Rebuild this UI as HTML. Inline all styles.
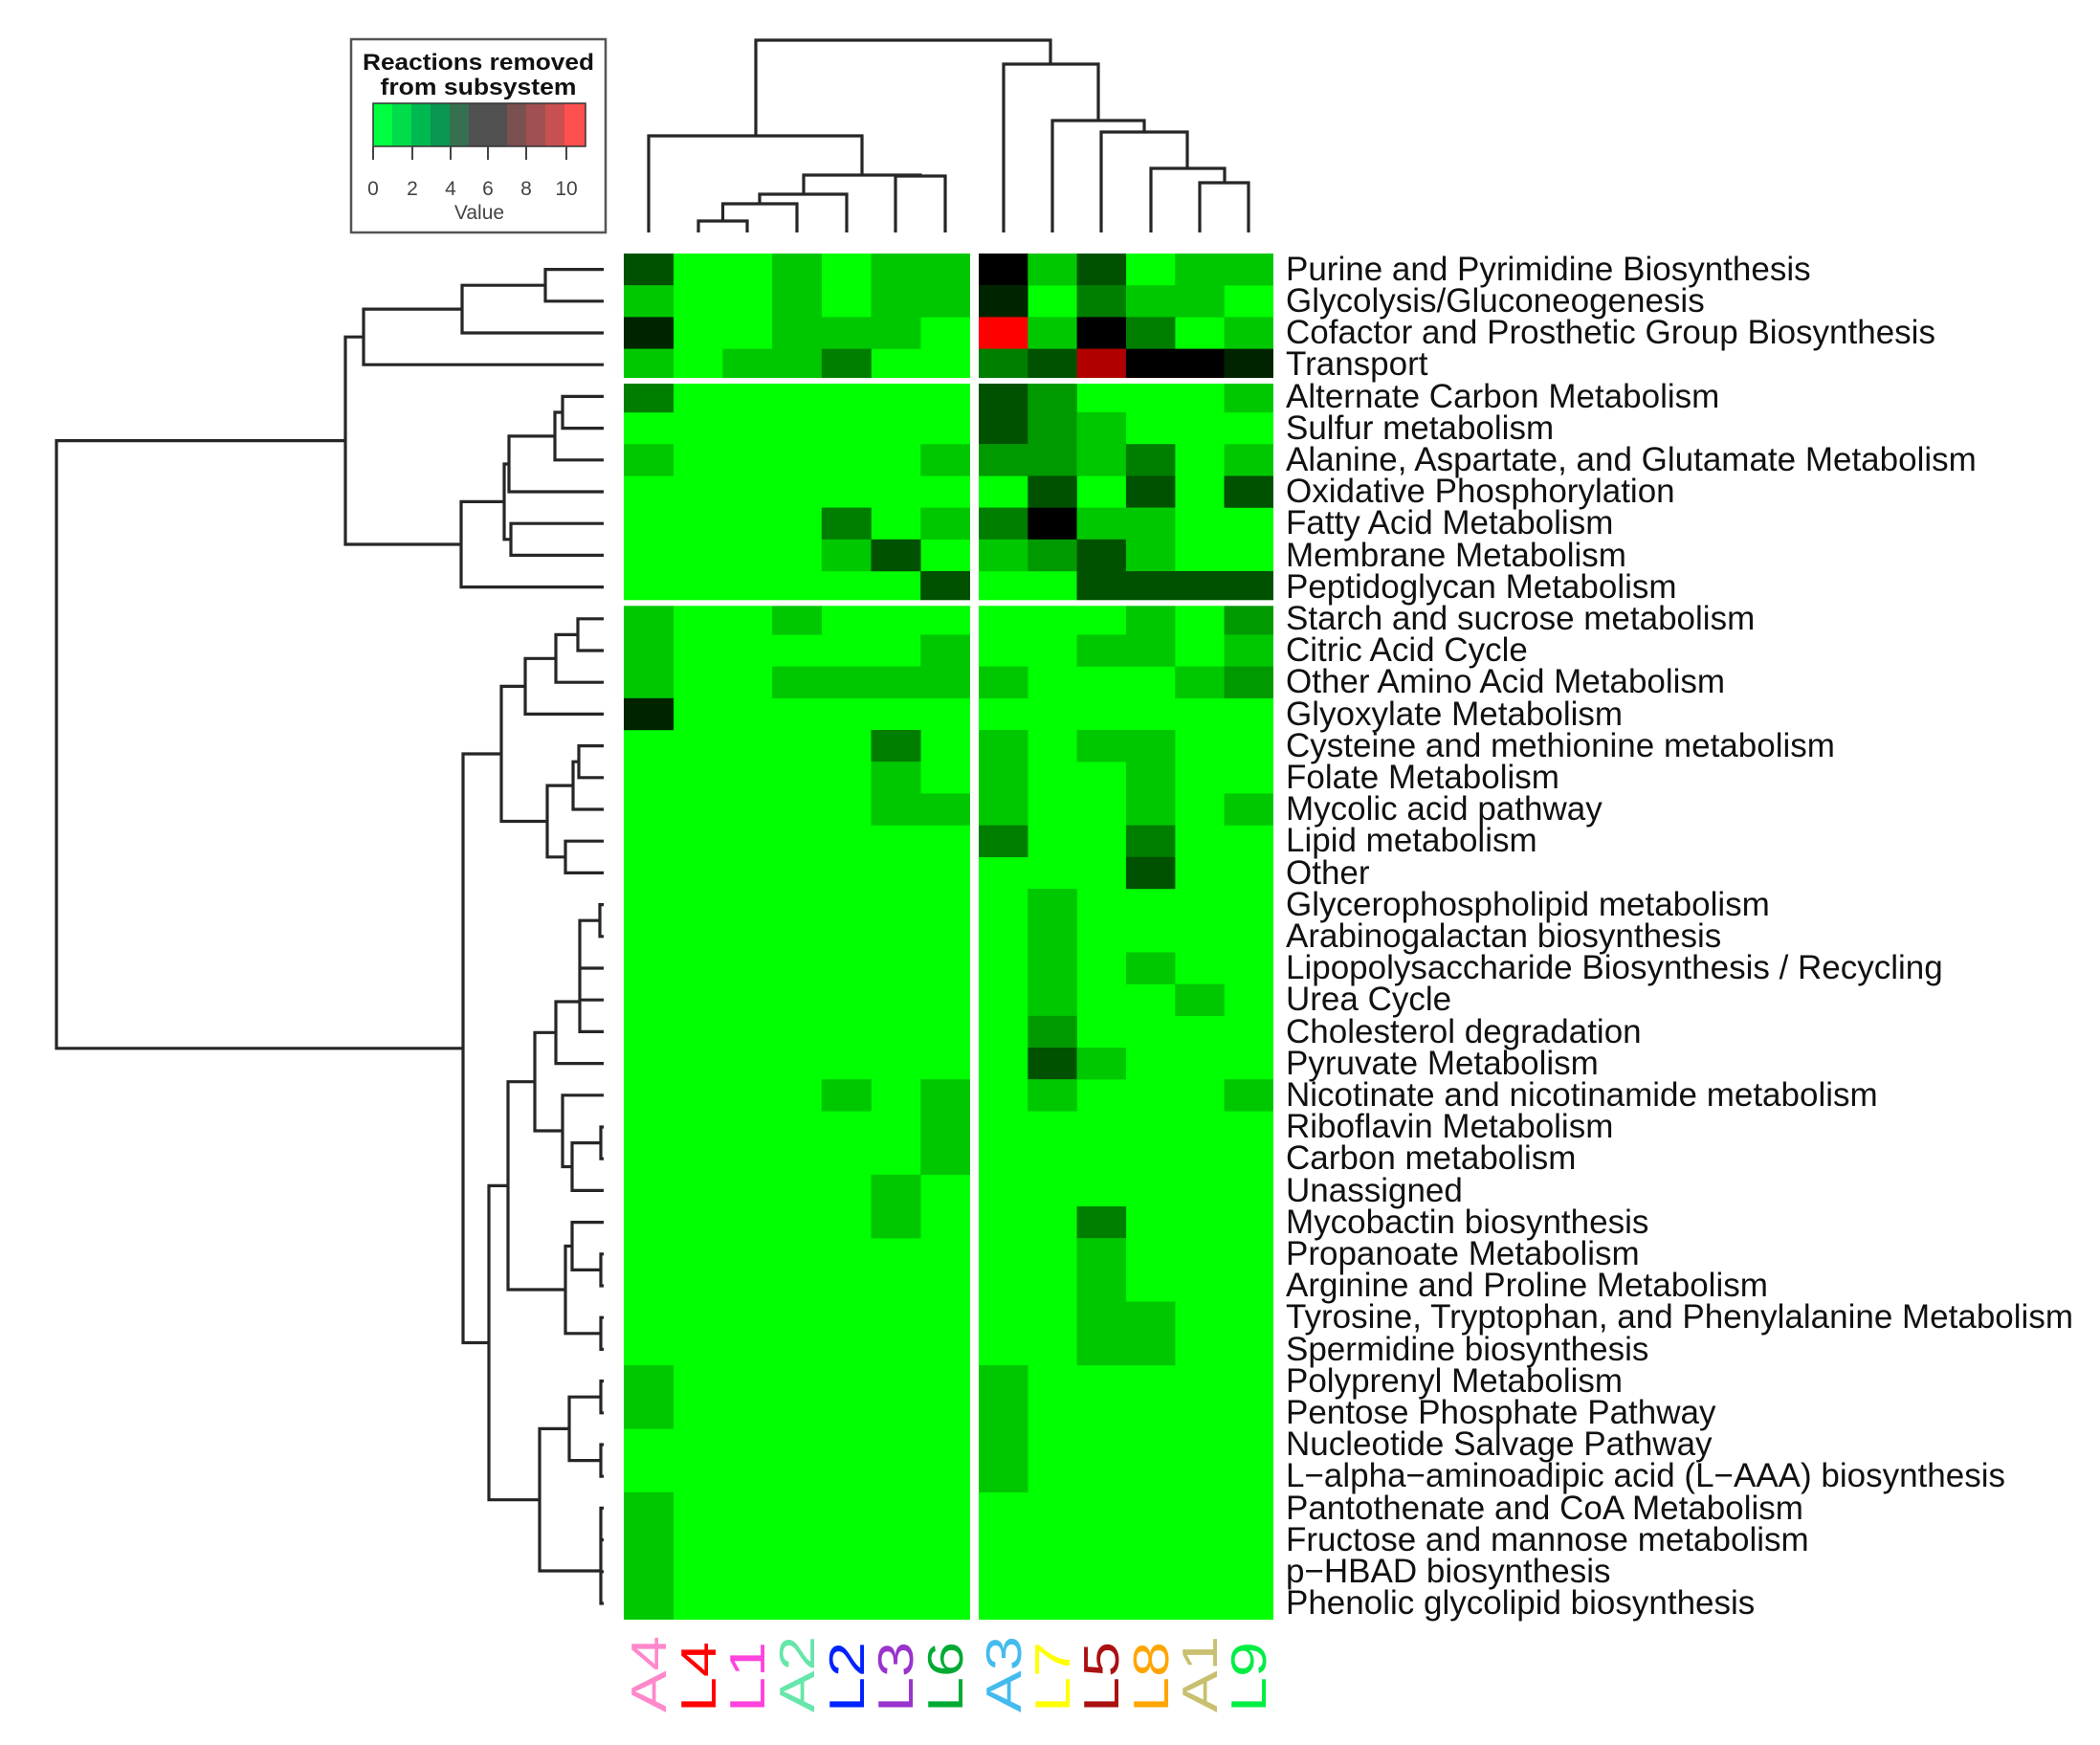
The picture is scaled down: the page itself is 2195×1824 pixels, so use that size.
<!DOCTYPE html>
<html><head><meta charset="utf-8"><style>
html,body{margin:0;padding:0;background:#fff;}
svg{display:block}
.a{fill:#00c800}.b{fill:#009a00}.c{fill:#007e00}.d{fill:#005200}.e{fill:#002400}.k{fill:#000}
.dg{fill:none;stroke:#262626;stroke-width:3.2}
.rl{font-family:"Liberation Sans",sans-serif;font-size:35px;fill:#111}
.cl{font-family:"Liberation Sans",sans-serif;font-size:52px}
</style></head><body>
<svg width="2195" height="1824" viewBox="0 0 2195 1824" xmlns="http://www.w3.org/2000/svg">
<rect width="2195" height="1824" fill="#fff"/>
<rect x="367" y="41" width="266" height="202" fill="#fff" stroke="#555" stroke-width="2.5"/>
<text x="500" y="73" text-anchor="middle" font-family="Liberation Sans,sans-serif" font-weight="bold" font-size="24" fill="#111" textLength="242" lengthAdjust="spacingAndGlyphs">Reactions removed</text>
<text x="500" y="99" text-anchor="middle" font-family="Liberation Sans,sans-serif" font-weight="bold" font-size="24" fill="#111" textLength="205" lengthAdjust="spacingAndGlyphs">from subsystem</text>
<g>
<rect x="390" y="108" width="21" height="45" fill="#00ff40"/>
<rect x="410" y="108" width="21" height="45" fill="#00dc4a"/>
<rect x="430" y="108" width="21" height="45" fill="#00b850"/>
<rect x="450" y="108" width="21" height="45" fill="#0a9650"/>
<rect x="470" y="108" width="21" height="45" fill="#357050"/>
<rect x="490" y="108" width="41" height="45" fill="#505050"/>
<rect x="530" y="108" width="21" height="45" fill="#7a5050"/>
<rect x="550" y="108" width="21" height="45" fill="#a05050"/>
<rect x="570" y="108" width="21" height="45" fill="#c85050"/>
<rect x="590" y="108" width="22" height="45" fill="#ff5050"/>
<rect x="390" y="108" width="222" height="45" fill="none" stroke="#333" stroke-width="1.5"/>
</g>
<path d="M390 153V167M431 153V167M471 153V167M510 153V167M550 153V167M592 153V167" stroke="#444" stroke-width="2"/>
<g font-family="Liberation Sans,sans-serif" font-size="21" fill="#444" text-anchor="middle">
<text x="390" y="204">0</text><text x="431" y="204">2</text><text x="471" y="204">4</text><text x="510" y="204">6</text><text x="550" y="204">8</text><text x="592" y="204">10</text>
<text x="501" y="229">Value</text>
</g>
<rect x="652" y="265" width="362" height="1428" fill="#00ff00"/>
<rect x="1023" y="265" width="308" height="1428" fill="#00ff00"/>
<g>
<rect class="d" x="652" y="265" width="52" height="33.4"/><rect class="a" x="807.1" y="265" width="52" height="33.4"/><rect class="a" x="910.5" y="265" width="103.5" height="33.4"/>
<rect class="k" x="1023" y="265" width="51.5" height="33.4"/><rect class="a" x="1074.3" y="265" width="51.5" height="33.4"/><rect class="d" x="1125.6" y="265" width="51.5" height="33.4"/><rect class="a" x="1228.2" y="265" width="102.8" height="33.4"/>
<rect class="a" x="652" y="298.2" width="52" height="33.4"/><rect class="a" x="807.1" y="298.2" width="52" height="33.4"/><rect class="a" x="910.5" y="298.2" width="103.5" height="33.4"/>
<rect class="e" x="1023" y="298.2" width="51.5" height="33.4"/><rect class="c" x="1125.6" y="298.2" width="51.5" height="33.4"/><rect class="a" x="1176.9" y="298.2" width="102.8" height="33.4"/>
<rect class="e" x="652" y="331.4" width="52" height="33.4"/><rect class="a" x="807.1" y="331.4" width="155.3" height="33.4"/>
<rect fill="#ff0000" x="1023" y="331.4" width="51.5" height="33.4"/><rect class="a" x="1074.3" y="331.4" width="51.5" height="33.4"/><rect class="k" x="1125.6" y="331.4" width="51.5" height="33.4"/><rect class="c" x="1176.9" y="331.4" width="51.5" height="33.4"/><rect class="a" x="1279.5" y="331.4" width="51.5" height="33.4"/>
<rect class="a" x="652" y="364.6" width="52" height="33.4"/><rect class="a" x="755.4" y="364.6" width="103.5" height="33.4"/><rect class="c" x="858.8" y="364.6" width="52" height="33.4"/>
<rect class="c" x="1023" y="364.6" width="51.5" height="33.4"/><rect class="d" x="1074.3" y="364.6" width="51.5" height="33.4"/><rect fill="#b00000" x="1125.6" y="364.6" width="51.5" height="33.4"/><rect class="k" x="1176.9" y="364.6" width="102.8" height="33.4"/><rect class="e" x="1279.5" y="364.6" width="51.5" height="33.4"/>
<rect class="c" x="652" y="397.8" width="52" height="33.4"/><rect class="d" x="1023" y="397.8" width="51.5" height="66.6"/><rect class="b" x="1074.3" y="397.8" width="51.5" height="66.6"/><rect class="a" x="1279.5" y="397.8" width="51.5" height="33.4"/>
<rect class="a" x="1125.6" y="431" width="51.5" height="33.4"/>
<rect class="a" x="652" y="464.2" width="52" height="33.4"/><rect class="a" x="962.2" y="464.2" width="52" height="33.4"/>
<rect class="b" x="1023" y="464.2" width="51.5" height="33.4"/><rect class="b" x="1074.3" y="464.2" width="51.5" height="33.4"/><rect class="a" x="1125.6" y="464.2" width="51.5" height="33.4"/><rect class="c" x="1176.9" y="464.2" width="51.5" height="33.4"/><rect class="a" x="1279.5" y="464.2" width="51.5" height="33.4"/>
<rect class="d" x="1074.3" y="497.4" width="51.5" height="33.4"/><rect class="d" x="1176.9" y="497.4" width="51.5" height="33.4"/><rect class="d" x="1279.5" y="497.4" width="51.5" height="33.4"/>
<rect class="c" x="858.8" y="530.6" width="52" height="33.4"/><rect class="a" x="962.2" y="530.6" width="52" height="33.4"/>
<rect class="c" x="1023" y="530.6" width="51.5" height="33.4"/><rect class="k" x="1074.3" y="530.6" width="51.5" height="33.4"/><rect class="a" x="1125.6" y="530.6" width="102.8" height="33.4"/>
<rect class="a" x="858.8" y="563.8" width="52" height="33.4"/><rect class="d" x="910.5" y="563.8" width="52" height="33.4"/>
<rect class="a" x="1023" y="563.8" width="51.5" height="33.4"/><rect class="b" x="1074.3" y="563.8" width="51.5" height="33.4"/><rect class="d" x="1125.6" y="563.8" width="51.5" height="66.6"/><rect class="a" x="1176.9" y="563.8" width="51.5" height="33.4"/>
<rect class="d" x="962.2" y="597" width="52" height="33.4"/><rect class="d" x="1125.6" y="597" width="205.4" height="33.4"/>
<rect class="a" x="652" y="630.2" width="52" height="99.8"/><rect class="a" x="807.1" y="630.2" width="52" height="33.4"/><rect class="a" x="1176.9" y="630.2" width="51.5" height="33.4"/><rect class="b" x="1279.5" y="630.2" width="51.5" height="33.4"/>
<rect class="a" x="962.2" y="663.4" width="52" height="33.4"/><rect class="a" x="1125.6" y="663.4" width="102.8" height="33.4"/><rect class="a" x="1279.5" y="663.4" width="51.5" height="33.4"/>
<rect class="a" x="807.1" y="696.6" width="207" height="33.4"/><rect class="a" x="1023" y="696.6" width="51.5" height="33.4"/><rect class="a" x="1228.2" y="696.6" width="51.5" height="33.4"/><rect class="b" x="1279.5" y="696.6" width="51.5" height="33.4"/>
<rect class="e" x="652" y="729.8" width="52" height="33.4"/>
<rect class="c" x="910.5" y="763" width="52" height="33.4"/><rect class="a" x="910.5" y="796.2" width="52" height="66.6"/><rect class="a" x="962.2" y="829.4" width="52" height="33.4"/>
<rect class="a" x="1023" y="763" width="51.5" height="99.8"/><rect class="a" x="1125.6" y="763" width="51.5" height="33.4"/><rect class="a" x="1176.9" y="763" width="51.5" height="99.8"/><rect class="a" x="1279.5" y="829.4" width="51.5" height="33.4"/>
<rect class="c" x="1023" y="862.6" width="51.5" height="33.4"/><rect class="c" x="1176.9" y="862.6" width="51.5" height="33.4"/>
<rect class="d" x="1176.9" y="895.8" width="51.5" height="33.4"/>
<rect class="a" x="1074.3" y="929" width="51.5" height="133"/><rect class="a" x="1176.9" y="995.4" width="51.5" height="33.4"/><rect class="a" x="1228.2" y="1028.6" width="51.5" height="33.4"/>
<rect class="b" x="1074.3" y="1061.8" width="51.5" height="33.4"/>
<rect class="d" x="1074.3" y="1095" width="51.5" height="33.4"/><rect class="a" x="1125.6" y="1095" width="51.5" height="33.4"/>
<rect class="a" x="858.8" y="1128.2" width="52" height="33.4"/><rect class="a" x="962.2" y="1128.2" width="52" height="99.8"/>
<rect class="a" x="1074.3" y="1128.2" width="51.5" height="33.4"/><rect class="a" x="1279.5" y="1128.2" width="51.5" height="33.4"/>
<rect class="a" x="910.5" y="1227.8" width="52" height="66.6"/>
<rect class="c" x="1125.6" y="1261" width="51.5" height="33.4"/><rect class="a" x="1125.6" y="1294.2" width="51.5" height="66.6"/><rect class="a" x="1125.6" y="1360.6" width="102.8" height="66.6"/>
<rect class="a" x="652" y="1427" width="52" height="66.6"/><rect class="a" x="1023" y="1427" width="51.5" height="133"/>
<rect class="a" x="652" y="1559.8" width="52" height="133"/>
</g>
<rect x="1014" y="262" width="9" height="1434" fill="#fff"/>
<rect x="648" y="395" width="688" height="6" fill="#fff"/>
<rect x="648" y="627.3" width="688" height="6" fill="#fff"/>
<path class="dg" d="M730 243V231H781V243M755.5 231V213H833V243M794 213V203H885V243M936 243V184H988V243M840 203V183H962V184M678 243V142H901V183M1254 243V191H1305V243M1203 243V176H1280V191M1151 243V138H1241V176M1100 243V126H1196V138M1049 243V67H1148V126M790 142V42H1098V67"/>
<path class="dg" d="M631 281.6H570V314.8H631M570 298.2H483V348H631M483 323.1H380V381.2H631
M631 414.4H588V447.6H631M588 431H580V480.8H631M580 455.9H532V514H631M631 547.2H534V580.4H631M532 485H527V563.8H534M527 524.4H482V613.6H631M380 352.2H361V569H482
M631 646.8H604V680H631M604 663.4H581V713.2H631M581 688.3H549V746.4H631
M631 779.6H605V812.8H631M605 796.2H599V846H631M631 879.2H591V912.4H631M599 821.1H572V895.8H591M549 717.4H524V858.5H572
M631 945.6H627V978.8H631M627 962.2H606V1078.4H631M606 1012H631M606 1045.2H631M606 1047H581V1111.6H631
M631 1178H628V1211.2H631M628 1194.6H598V1244.4H631M631 1144.8H588V1219.5H598M581 1079.3H559V1182H588
M631 1310.8H628V1344H631M631 1277.6H598V1327.4H628M631 1377.2H628V1410.4H631M598 1302.5H591V1393.8H628M559 1130.7H531V1348H591
M631 1443.6H628V1476.8H631M631 1510H628V1543.2H631M628 1460.2H595V1526.6H628
M631 1576.4H628V1676H631M628 1609.6H631M628 1642.8H631M595 1493.4H564V1642H628
M531 1239.4H511V1567.7H564M524 788H484V1403.5H511M361 460.6H59V1095.8H484"/>
<g class="rl">
<text x="1344" y="293">Purine and Pyrimidine Biosynthesis</text>
<text x="1344" y="326">Glycolysis/Gluconeogenesis</text>
<text x="1344" y="359">Cofactor and Prosthetic Group Biosynthesis</text>
<text x="1344" y="392">Transport</text>
<text x="1344" y="426">Alternate Carbon Metabolism</text>
<text x="1344" y="459">Sulfur metabolism</text>
<text x="1344" y="492">Alanine, Aspartate, and Glutamate Metabolism</text>
<text x="1344" y="525">Oxidative Phosphorylation</text>
<text x="1344" y="558">Fatty Acid Metabolism</text>
<text x="1344" y="592">Membrane Metabolism</text>
<text x="1344" y="625">Peptidoglycan Metabolism</text>
<text x="1344" y="658">Starch and sucrose metabolism</text>
<text x="1344" y="691">Citric Acid Cycle</text>
<text x="1344" y="724">Other Amino Acid Metabolism</text>
<text x="1344" y="758">Glyoxylate Metabolism</text>
<text x="1344" y="791">Cysteine and methionine metabolism</text>
<text x="1344" y="824">Folate Metabolism</text>
<text x="1344" y="857">Mycolic acid pathway</text>
<text x="1344" y="890">Lipid metabolism</text>
<text x="1344" y="924">Other</text>
<text x="1344" y="957">Glycerophospholipid metabolism</text>
<text x="1344" y="990">Arabinogalactan biosynthesis</text>
<text x="1344" y="1023">Lipopolysaccharide Biosynthesis / Recycling</text>
<text x="1344" y="1056">Urea Cycle</text>
<text x="1344" y="1090">Cholesterol degradation</text>
<text x="1344" y="1123">Pyruvate Metabolism</text>
<text x="1344" y="1156">Nicotinate and nicotinamide metabolism</text>
<text x="1344" y="1189">Riboflavin Metabolism</text>
<text x="1344" y="1222">Carbon metabolism</text>
<text x="1344" y="1256">Unassigned</text>
<text x="1344" y="1289">Mycobactin biosynthesis</text>
<text x="1344" y="1322">Propanoate Metabolism</text>
<text x="1344" y="1355">Arginine and Proline Metabolism</text>
<text x="1344" y="1388">Tyrosine, Tryptophan, and Phenylalanine Metabolism</text>
<text x="1344" y="1422">Spermidine biosynthesis</text>
<text x="1344" y="1455">Polyprenyl Metabolism</text>
<text x="1344" y="1488">Pentose Phosphate Pathway</text>
<text x="1344" y="1521">Nucleotide Salvage Pathway</text>
<text x="1344" y="1554">L−alpha−aminoadipic acid (L−AAA) biosynthesis</text>
<text x="1344" y="1588">Pantothenate and CoA Metabolism</text>
<text x="1344" y="1621">Fructose and mannose metabolism</text>
<text x="1344" y="1654">p−HBAD biosynthesis</text>
<text x="1344" y="1687">Phenolic glycolipid biosynthesis</text>
</g>
<g class="cl">
<text transform="translate(696,1790) rotate(-90)" fill="#ff88cc" textLength="80" lengthAdjust="spacingAndGlyphs">A4</text>
<text transform="translate(748,1790) rotate(-90)" fill="#ff0000" textLength="74" lengthAdjust="spacingAndGlyphs">L4</text>
<text transform="translate(799,1790) rotate(-90)" fill="#ff44dd" textLength="74" lengthAdjust="spacingAndGlyphs">L1</text>
<text transform="translate(851,1790) rotate(-90)" fill="#66e6aa" textLength="80" lengthAdjust="spacingAndGlyphs">A2</text>
<text transform="translate(903,1790) rotate(-90)" fill="#0022ff" textLength="74" lengthAdjust="spacingAndGlyphs">L2</text>
<text transform="translate(954,1790) rotate(-90)" fill="#9933cc" textLength="74" lengthAdjust="spacingAndGlyphs">L3</text>
<text transform="translate(1006,1790) rotate(-90)" fill="#00aa33" textLength="74" lengthAdjust="spacingAndGlyphs">L6</text>
<text transform="translate(1067,1790) rotate(-90)" fill="#44bbee" textLength="80" lengthAdjust="spacingAndGlyphs">A3</text>
<text transform="translate(1118,1790) rotate(-90)" fill="#ffff00" textLength="74" lengthAdjust="spacingAndGlyphs">L7</text>
<text transform="translate(1169,1790) rotate(-90)" fill="#aa1111" textLength="74" lengthAdjust="spacingAndGlyphs">L5</text>
<text transform="translate(1221,1790) rotate(-90)" fill="#ffa500" textLength="74" lengthAdjust="spacingAndGlyphs">L8</text>
<text transform="translate(1272,1790) rotate(-90)" fill="#c8c070" textLength="80" lengthAdjust="spacingAndGlyphs">A1</text>
<text transform="translate(1323,1790) rotate(-90)" fill="#00ee44" textLength="74" lengthAdjust="spacingAndGlyphs">L9</text>
</g>
</svg>
</body></html>
